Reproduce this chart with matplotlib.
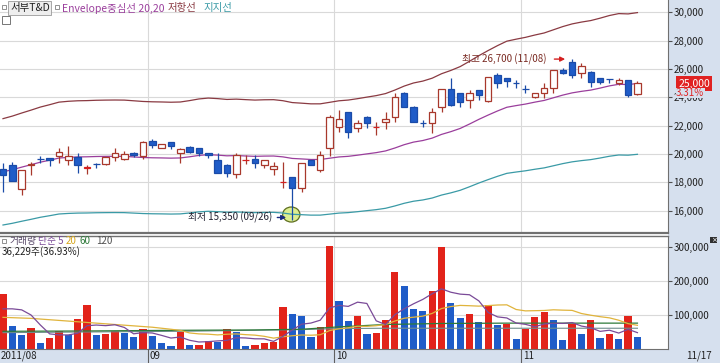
import numpy as np
import pandas as pd
import matplotlib
matplotlib.use("Agg")
import matplotlib.pyplot as plt
from matplotlib.patches import Ellipse, Rectangle

plt.rcParams["font.family"] = ["Noto Sans CJK KR", "DejaVu Sans"]

# ─── data ─────────────────────────────────────────────────────────────────────
opens = [18950, 19230, 17540, 19250, 19660, 19730, 19870, 19580, 19820, 19030,
         19300, 19280, 19780, 19650, 20060, 19870, 20950, 20450, 20830, 20060,
         20520, 20410, 20060, 19580, 19230, 18600, 19570, 19630, 19230, 18950,
         18040, 18410, 17590, 19580, 18880, 20410, 21930, 22990, 21820, 22640,
         21920, 22290, 22640, 24290, 23340, 22190, 22170, 23340, 24570, 24290,
         23820, 24520, 23770, 25580, 25350, 25000, 24610, 24050, 24290, 24640,
         25930, 26520, 25700, 25810, 25350, 25300, 25040, 25230, 24250]
highs = [19370, 19460, 18880, 19460, 19870, 19760, 20410, 20570, 20060, 19230,
         19390, 19800, 20410, 20240, 20170, 20900, 21030, 20710, 20850, 20450,
         20560, 20420, 20080, 20060, 19300, 20080, 19940, 19940, 19600, 19460,
         19460, 18420, 19380, 19600, 20220, 22760, 23110, 23000, 22410, 22660,
         22290, 22990, 24290, 24400, 23380, 22410, 23230, 24600, 25350, 24300,
         24520, 24540, 25440, 25700, 25360, 25230, 24870, 24300, 24990, 25950,
         26050, 26700, 26400, 25830, 25400, 25300, 25350, 25250, 25180]
lows = [17350, 18070, 17120, 18530, 19390, 19160, 19350, 19230, 18650, 18580,
        19000, 19250, 19540, 19580, 19820, 19630, 20410, 20450, 20340, 19350,
        20100, 19890, 19700, 18650, 18410, 18300, 19280, 19000, 19040, 18530,
        17590, 15350, 17350, 19200, 18760, 19890, 21580, 21110, 21580, 21820,
        21350, 21750, 22290, 23300, 22250, 21930, 21470, 22990, 23400, 23340,
        23230, 23820, 23700, 24640, 24750, 24640, 24290, 23940, 23940, 24290,
        25650, 25350, 25350, 24750, 24950, 24990, 24870, 24050, 24200]
closes = [18530, 18120, 18880, 19290, 19620, 19580, 20170, 19870, 19230, 19060,
          19270, 19780, 20060, 20010, 19940, 20880, 20640, 20710, 20590, 20340,
          20170, 20060, 19920, 18650, 18650, 19940, 19580, 19350, 19580, 19180,
          18060, 17590, 19350, 19230, 19940, 22640, 22450, 21580, 22220, 22170,
          21930, 22450, 24050, 23340, 22290, 22170, 22990, 24570, 23460, 23700,
          24290, 24170, 25420, 24990, 25180, 24990, 24600, 24290, 24640, 25930,
          25700, 25580, 26210, 25110, 25110, 25290, 25230, 24200, 25000]
volume = [162000, 68000, 41000, 63000, 19000, 31000, 53000, 41000, 87000, 130000,
          41000, 44000, 54000, 48000, 36000, 59000, 38000, 19000, 9000, 51000,
          11000, 13000, 24000, 20000, 59000, 50000, 9000, 12000, 19000, 22000,
          123000, 103000, 97000, 36000, 64000, 303000, 141000, 82000, 98000, 45000,
          48000, 86000, 227000, 185000, 118000, 113000, 169000, 299000, 135000, 90000,
          104000, 79000, 129000, 70000, 74000, 29000, 60000, 94000, 110000, 85000,
          27000, 72000, 43000, 85000, 32000, 44000, 30000, 98100, 36229]

# indicator values before a full window is available
env_mid_early = [18750, 18900, 19080, 19250, 19430, 19570, 19720, 19770, 19800, 19810,
                 19830, 19840, 19845, 19840, 19800, 19760, 19740, 19730, 19715]
vol_ma5_early = [118000, 118000, 115000, 100000]
vol_ma20_early = [93000, 92000, 91000, 90000, 88000, 86000, 84000, 82000, 80000, 78000,
                  76000, 74000, 72000, 70000, 68000, 66000, 64000, 61000, 58000]
# long averages (60 / 120 days) read at a few bars
long_ma_bars = [0, 9, 19, 27, 32, 36, 41, 47, 54, 61, 68]
vol_ma60 = [52000, 53000, 55000, 56000, 58000, 65000, 72000, 75000, 76000, 76000, 76000]
vol_ma120 = [48000, 50000, 52000, 55000, 57000, 60000, 61000, 61000, 61000, 61000, 61000]

month_first_bar = [16, 36, 56]
month_labels = ["09", "10", "11"]
price_ticks = [16000, 18000, 20000, 22000, 24000, 26000, 28000, 30000]
vol_ticks = [100000, 200000, 300000]

# ─── colours ──────────────────────────────────────────────────────────────────
UP_EDGE = "#A8382C"
UP_DOJI = "#D42020"
DN_FACE = "#1F5CC8"
DN_EDGE = "#1A4BA8"
VOL_UP = "#E2231A"
VOL_DN = "#1F5CC8"
C_MID = "#9A3E9C"
C_UPPER = "#8A3A42"
C_LOWER = "#3A9AA6"
BAND = "#D6E0EE"
GRID = "#D9D9D9"

# ─── derived series ───────────────────────────────────────────────────────────
n = len(closes)
x = np.arange(n)
o = np.array(opens, float)
h = np.array(highs, float)
l = np.array(lows, float)
c = np.array(closes, float)
v = np.array(volume, float)

mid = pd.Series(c).rolling(20).mean().to_numpy()
mid[:19] = env_mid_early
upper = mid * 1.2
lower = mid * 0.8

vma5 = pd.Series(v).rolling(5).mean().to_numpy()
vma5[:4] = vol_ma5_early
vma20 = pd.Series(v).rolling(20).mean().to_numpy()
vma20[:19] = vol_ma20_early

# ─── figure ───────────────────────────────────────────────────────────────────
W, H = 720, 363
fig = plt.figure(figsize=(W / 100, H / 100), dpi=100)
fig.patch.set_facecolor("white")

def fx(px):
    return px / W

def fy(py):
    return 1 - py / H

def fbox(px, py, w, hgt, **kw):
    # rectangle in pixel coords (top-left origin)
    fig.patches.append(Rectangle((fx(px), fy(py + hgt)), w / W, hgt / H,
                                 transform=fig.transFigure, **kw))

PLOT_R = 668
fbox(PLOT_R, 0, W - PLOT_R, H, facecolor=BAND, edgecolor="none", zorder=-5)
fbox(0, 349, PLOT_R, H - 349, facecolor=BAND, edgecolor="none", zorder=-5)

ax_p = fig.add_axes([0, fy(233), fx(PLOT_R), 233 / H])
ax_v = fig.add_axes([0, fy(349), fx(PLOT_R), (349 - 236) / H])

XL = (-3 / 9.33, (PLOT_R - 3) / 9.33)

for ax in (ax_p, ax_v):
    ax.set_xlim(*XL)
    ax.set_facecolor("white")
    for s in ("top", "left"):
        ax.spines[s].set_visible(False)
    ax.spines["right"].set_color("#707070")
    ax.spines["bottom"].set_color("#707070")
    ax.set_xticks([])
    ax.yaxis.tick_right()
    ax.tick_params(axis="y", length=3, width=0.8, color="#505050", pad=1,
                   labelsize=7, labelcolor="#202020")
    for m in month_first_bar:
        ax.axvline(m - 0.5, color=GRID, lw=0.8, zorder=0)

ax_p.spines["bottom"].set_linewidth(1.6)
ax_v.spines["top"].set_visible(True)
ax_v.spines["top"].set_color("#707070")
ax_v.spines["top"].set_linewidth(1.0)

# ─── price panel ──────────────────────────────────────────────────────────────
ax_p.set_ylim(14436, 30867)
ax_p.set_yticks(price_ticks)
ax_p.set_yticklabels([f"{t:,}" for t in price_ticks])
for t in price_ticks:
    ax_p.axhline(t, color=GRID, lw=0.8, zorder=0)

low_i = int(np.argmin(l))
high_i = int(np.argmax(h))
ax_p.add_patch(Ellipse((low_i - 0.1, 15740), 1.85, 1060, facecolor="#DDEE90",
                       edgecolor="#5E6E20", lw=0.9, zorder=1))

ax_p.plot(x, upper, color=C_UPPER, lw=0.9, zorder=2)
ax_p.plot(x, mid, color=C_MID, lw=0.9, zorder=2)
ax_p.plot(x, lower, color=C_LOWER, lw=0.9, zorder=2)

up = c >= o
wick_col = np.where(up, UP_EDGE, DN_EDGE)
ax_p.vlines(x, l, h, colors=wick_col, lw=0.9, zorder=3)
body_h = np.maximum(np.abs(c - o), 20)
face = np.where(up, "white", DN_FACE)
edge = np.where(up, UP_EDGE, DN_EDGE)
doji = np.abs(c - o) < 40
edge = np.where(doji & up, UP_DOJI, edge)
ax_p.bar(x, body_h, bottom=np.minimum(o, c), width=0.7, color=face,
         edgecolor=edge, linewidth=0.9, zorder=4)

# high / low notes
ax_p.text(high_i - 2.7, h[high_i], f"최고 {int(h[high_i]):,} (11/08)", ha="right",
          va="center", fontsize=7, color="#7A2A22", zorder=6)
ax_p.annotate("", xy=(high_i - 0.45, h[high_i]), xytext=(high_i - 2.2, h[high_i]),
              arrowprops=dict(arrowstyle="-|>", color="#D42020", lw=1.0,
                              mutation_scale=7), zorder=6)
ax_p.text(low_i - 2.1, l[low_i] + 180, f"최저 {int(l[low_i]):,} (09/26)", ha="right",
          va="center", fontsize=7, color="#202030", zorder=6)
ax_p.annotate("", xy=(low_i - 0.35, l[low_i] + 180), xytext=(low_i - 1.9, l[low_i] + 180),
              arrowprops=dict(arrowstyle="-|>", color="#1A2A80", lw=1.0,
                              mutation_scale=7), zorder=6)

# ─── volume panel ─────────────────────────────────────────────────────────────
ax_v.set_ylim(0, 332000)
ax_v.set_yticks(vol_ticks)
ax_v.set_yticklabels([f"{t:,}" for t in vol_ticks])
for t in vol_ticks:
    ax_v.axhline(t, color=GRID, lw=0.8, zorder=0)

vol_up = np.r_[True, np.diff(v) > 0]
ax_v.bar(x, v, width=0.78, color=np.where(vol_up, VOL_UP, VOL_DN), zorder=2)
ax_v.plot(long_ma_bars, vol_ma120, color="#6E8C8C", lw=0.8, zorder=3)
ax_v.plot(long_ma_bars, vol_ma60, color="#2E7A3A", lw=0.9, zorder=3)
ax_v.plot(x, vma20, color="#E0B43C", lw=0.9, zorder=3)
ax_v.plot(x, vma5, color="#7A4A98", lw=0.9, zorder=3)

# ─── legends / labels ─────────────────────────────────────────────────────────
def ftext(px, py, s, **kw):
    fig.text(fx(px), fy(py), s, va="center", **kw)

SQ = dict(facecolor="white", edgecolor="#808080", lw=0.6, zorder=5)
fbox(2, 5, 4, 4, **SQ)
ftext(10, 8, "서부T&D", fontsize=7.5, color="#202020",
      bbox=dict(boxstyle="square,pad=0.15", fc="#EEEEEE", ec="#9A9A9A", lw=0.6))
fbox(55, 5, 4, 4, **SQ)
ftext(62, 8, "Envelope중심선 20,20", fontsize=7.5, color=C_MID)
ftext(168, 8, "저항선", fontsize=7.5, color=C_UPPER)
ftext(203, 8, "지지선", fontsize=7.5, color=C_LOWER)
fbox(2, 16, 8, 8, facecolor="white", edgecolor="#606060", lw=0.6, zorder=5)

fbox(2, 239, 4, 4, **SQ)
ftext(10, 241, "거래량", fontsize=7, color="#5A4A6A")
ftext(38, 241, "단순 5", fontsize=7, color="#7A4A98")
ftext(66, 241, "20", fontsize=7, color="#D8A820")
ftext(80, 241, "60", fontsize=7, color="#2E7A3A")
ftext(96, 241, "120", fontsize=7, color="#505050")
ftext(2, 252, "36,229주(36.93%)", fontsize=7, color="#202020")

# close button of the volume pane
fbox(710, 237, 7, 6, facecolor="#303030", edgecolor="none", zorder=5)
fig.text(fx(713.5), fy(240), "×", ha="center", va="center", fontsize=5,
         color="white", family="DejaVu Sans", zorder=6)

# current price tag
fig.text(fx(694), fy(83.5), f"{int(c[-1]):,}", ha="center", va="center", fontsize=7.5,
         color="white", bbox=dict(boxstyle="square,pad=0.2", fc="#E02222", ec="none"))
ftext(676, 93, f"{(c[-1] / c[-2] - 1) * 100:.2f}%", fontsize=7, color="#E02222",
      bbox=dict(boxstyle="square,pad=0.05", fc=BAND, ec="none"))

# x axis band
ftext(1, 356, "2011/08", fontsize=7, color="#202020")
for m, lab in zip(month_first_bar, month_labels):
    px = 3 + 9.33 * (m - 0.5)
    fig.add_artist(plt.Line2D([fx(px), fx(px)], [0, fy(349)], color="#606060", lw=0.8))
    ftext(px + 2, 356, lab, fontsize=7, color="#202020")
ftext(686, 356, "11/17", fontsize=7, color="#202020")

fig.savefig("out.png", dpi=100, facecolor=fig.get_facecolor())
